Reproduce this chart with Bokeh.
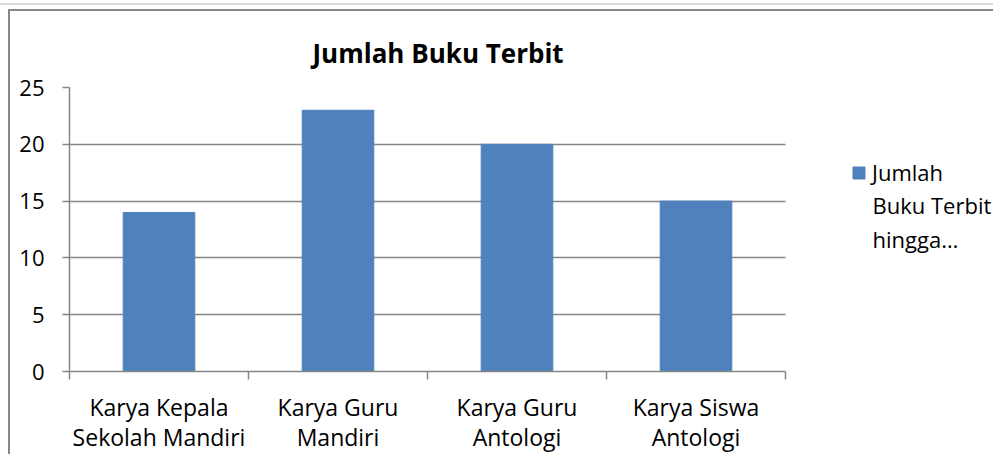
from bokeh.plotting import figure
from bokeh.layouts import column
from bokeh.models import (ColumnDataSource, Range1d, FixedTicker, Legend, LegendItem, Label)
from bokeh.embed import file_html
from bokeh.resources import INLINE

# ---- data ----
categories = ["Karya Kepala Sekolah Mandiri", "Karya Guru Mandiri",
              "Karya Guru Antologi", "Karya Siswa Antologi"]
tick_labels = ["Karya Kepala\nSekolah Mandiri", "Karya Guru\nMandiri",
               "Karya Guru\nAntologi", "Karya Siswa\nAntologi"]
values = [14, 23, 20, 15]
y_ticks = [0, 5, 10, 15, 20, 25]
series_lines = ["Jumlah", "Buku Terbit", "hingga\u2026"]
title_text = "Jumlah Buku Terbit"

FONT = "Open Sans"
AXIS_GRAY = "#868686"
BAR_BLUE = "#4F81BD"

# ---- layout (pixels) ----
CAT_PX = 179            # width of one category slot
FRAME_W = 926           # plot frame runs to the right edge (room for legend)
n = len(categories)
x_end = FRAME_W / CAT_PX

positions = [i + 0.5 for i in range(n)]
boundaries = [i for i in range(n + 1)]

source = ColumnDataSource(data=dict(x=positions, top=values, cat=categories))

p = figure(width=985, height=445, output_backend="svg", toolbar_location=None,
           x_range=Range1d(0, x_end), y_range=Range1d(0, 25),
           min_border_left=59, min_border_right=0, min_border_top=76,
           min_border_bottom=84, title=title_text)
p.styles = {"border-left": "2px solid #878787", "border-top": "2px solid #878787"}

bars = p.vbar(x="x", top="top", width=0.4, bottom=0, source=source,
              fill_color=BAR_BLUE, line_color=BAR_BLUE, line_width=1)

p.outline_line_color = None
p.background_fill_color = "white"
p.border_fill_color = "white"

# title
p.title.text_font = FONT
p.title.text_font_size = "26px"
p.title.text_font_style = "bold"
p.title.text_color = "black"
p.title.align = "left"
p.title.offset = 243
p.title.standoff = 33

# x axis: labels at centres, tick marks at category boundaries
xa = p.xaxis[0]
xa.bounds = (0, n)
xa.ticker = FixedTicker(ticks=positions, minor_ticks=boundaries)
xa.major_label_overrides = {pos: lab for pos, lab in zip(positions, tick_labels)}
xa.major_tick_in = 0
xa.major_tick_out = 0
xa.minor_tick_in = 0
xa.minor_tick_out = 8
xa.minor_tick_line_color = AXIS_GRAY
xa.minor_tick_line_width = 1.5
xa.axis_line_color = AXIS_GRAY
xa.axis_line_width = 1.5
xa.major_label_text_font = FONT
xa.major_label_text_font_size = "23px"
xa.major_label_text_color = "black"
xa.major_label_text_line_height = 0.96
xa.major_label_standoff = 11

# y axis
ya = p.yaxis[0]
ya.ticker = FixedTicker(ticks=y_ticks, minor_ticks=[])
ya.major_tick_in = 0
ya.major_tick_out = 7
ya.major_tick_line_color = AXIS_GRAY
ya.major_tick_line_width = 1.5
ya.minor_tick_line_color = None
ya.axis_line_color = AXIS_GRAY
ya.axis_line_width = 1.5
ya.major_label_text_font = FONT
ya.major_label_text_font_size = "22px"
ya.major_label_text_color = "black"
ya.major_label_standoff = 18

p.xgrid.grid_line_color = None
yg = p.ygrid[0]
yg.ticker = FixedTicker(ticks=y_ticks)
yg.grid_line_color = AXIS_GRAY
yg.grid_line_width = 1.5
try:
    yg.cross_bounds = (0, n)
except AttributeError:
    pass

# legend: glyph + first line, continuation lines as a label below
legend = Legend(items=[LegendItem(label=series_lines[0], renderers=[bars])],
                location=(782, 184), orientation="vertical",
                padding=0, margin=0, spacing=0,
                glyph_width=15, glyph_height=15, label_standoff=6,
                border_line_alpha=0, background_fill_alpha=0,
                label_text_font=FONT, label_text_font_size="22px",
                label_text_color="black", label_text_line_height=1.0)
p.add_layout(legend, "center")

cont = Label(x=803, y=182, x_units="screen", y_units="screen",
             text="\n".join(series_lines[1:]), text_font=FONT,
             text_font_size="22px", text_color="black",
             text_baseline="top", text_align="left", text_line_height=1.135)
p.add_layout(cont)

root = column(p, styles={"border-top": "2px solid #dadada", "margin-top": "3px",
                         "padding-top": "4px", "padding-left": "8px"})

open("out.html", "w").write(file_html(root, INLINE))
